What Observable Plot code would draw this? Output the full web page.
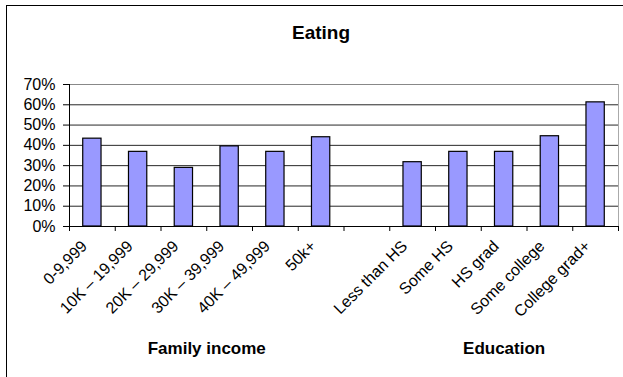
<!DOCTYPE html>
<html>
<head>
<meta charset="utf-8">
<script src="https://cdn.jsdelivr.net/npm/d3@7"></script>
<script src="https://cdn.jsdelivr.net/npm/@observablehq/plot@0.6"></script>
<style>
  html, body { margin: 0; padding: 0; background: #fff; overflow: hidden; }
  #wrap { position: relative; width: 623px; height: 377px; overflow: hidden; }
  #frame { position: absolute; left: 6px; top: 4.5px; width: 640px; height: 400px;
           border: 1.5px solid #000; pointer-events: none; box-sizing: border-box; }
  svg { display: block; }
</style>
</head>
<body>
<div id="wrap"><div id="chart"></div><div id="frame"></div></div>
<script>
const title = "Eating";
const categories = ["0-9,999", "10K – 19,999", "20K – 29,999", "30K – 39,999", "40K – 49,999", "50k+",
                    "", "Less than HS", "Some HS", "HS grad", "Some college", "College grad+"];
const values = [0.433, 0.368, 0.289, 0.395, 0.368, 0.44, null, 0.317, 0.368, 0.368, 0.445, 0.612];
const groupNames = ["Family income", "Education"];
const groupIndices = [[0, 1, 2, 3, 4, 5], [7, 8, 9, 10, 11]];
const yTicks = [0, 0.1, 0.2, 0.3, 0.4, 0.5, 0.6, 0.7];

const data = categories.map((c, i) => ({c, i, v: values[i]}));
const bars = data.filter(d => d.v != null);
const labels = data.filter(d => d.c !== "");
const groups = groupNames.map((g, j) => ({g, x: d3.mean(groupIndices[j], i => i + 0.5)}));

const font = "'Liberation Sans', Arial, Helvetica, sans-serif";

const plot = Plot.plot({
  width: 623,
  height: 377,
  marginLeft: 69,
  marginRight: 5,
  marginTop: 84,
  marginBottom: 151,
  style: {fontFamily: font, fontSize: "16px", background: "transparent", color: "#000", overflow: "visible"},
  x: {type: "linear", domain: [0, categories.length], ticks: d3.range(categories.length + 1),
      tickFormat: () => "", tickSize: 5, label: null},
  y: {domain: [0, 0.7], ticks: yTicks, tickFormat: d3.format(".0%"), tickSize: 6, tickPadding: 8, label: null},
  marks: [
    Plot.ruleY(yTicks.filter(t => t > 0 && t < 0.7), {stroke: "#000", strokeOpacity: 0.85}),
    Plot.ruleY([0.7], {stroke: "#888"}),
    Plot.ruleX([categories.length], {stroke: "#aaa"}),
    Plot.rectY(bars, {x1: d => d.i + 0.3, x2: d => d.i + 0.7, y: "v", fill: "#9999ff", stroke: "#000", strokeWidth: 1.2}),
    Plot.ruleX([0], {stroke: "#000"}),
    Plot.ruleY([0], {stroke: "#000"}),
    Plot.text(labels, {x: d => d.i + 0.5, text: "c", frameAnchor: "bottom", rotate: -45, textAnchor: "end",
                       lineAnchor: "middle", dx: -8, dy: 17, fontSize: 16, fill: "#000"}),
    Plot.text(groups, {x: "x", text: "g", frameAnchor: "bottom", lineAnchor: "bottom", dy: 127,
                       fontWeight: "bold", fontSize: 17, fill: "#000"}),
    Plot.text([title], {text: d => d, frameAnchor: "top", lineAnchor: "bottom", dx: -23, dy: -46,
                        fontWeight: "bold", fontSize: 19, fill: "#000"})
  ]
});
document.getElementById("chart").appendChild(plot);
</script>
</body>
</html>
